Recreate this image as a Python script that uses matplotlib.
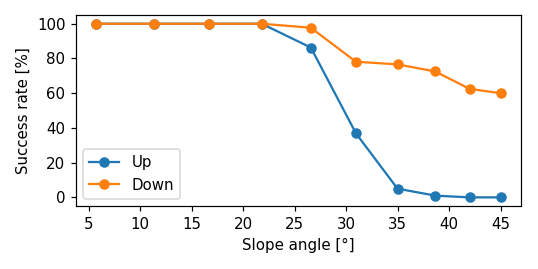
import matplotlib
matplotlib.use('Agg')
import matplotlib.pyplot as plt

# slope angle in degrees, success rates in percent
angles = [5.71, 11.31, 16.70, 21.80, 26.57, 30.96, 34.99, 38.66, 41.99, 45.0]
up = [100, 100, 100, 100, 86.3, 36.8, 5.0, 1.0, 0, 0]
down = [100, 100, 100, 100, 97.7, 78.1, 76.6, 72.5, 62.5, 60.0]

# reference looks rendered at a slightly higher dpi than 100
dpi = 108
fig = plt.figure(figsize=(538 / dpi, 269 / dpi), dpi=dpi)
ax = fig.add_subplot(111)
fig.subplots_adjust(left=0.141, right=0.968, bottom=0.234, top=0.944)

ax.plot(angles, up, marker='o', label='Up')
ax.plot(angles, down, marker='o', label='Down')

ax.set_xlabel('Slope angle [°]')
ax.set_ylabel('Success rate [%]')
ax.set_xticks([5, 10, 15, 20, 25, 30, 35, 40, 45])
ax.legend(loc='lower left')

fig.savefig('out.png', dpi=dpi)
